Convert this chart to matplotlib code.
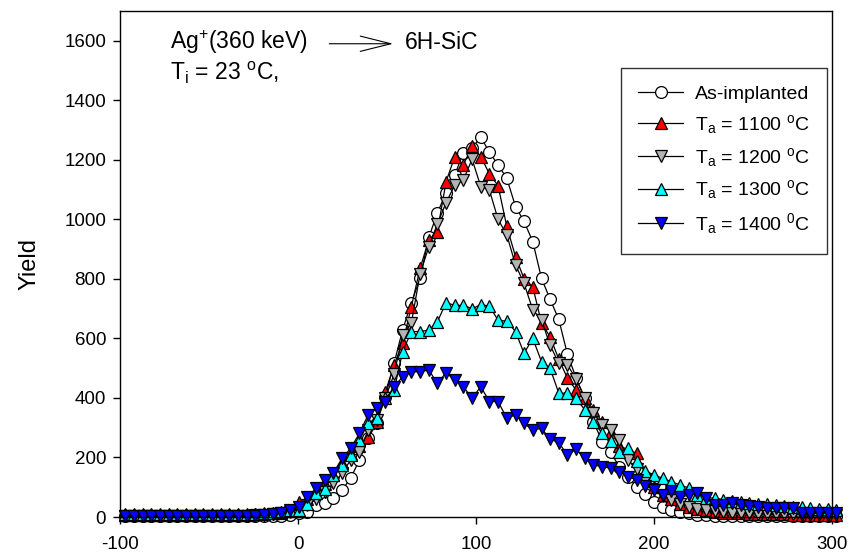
import matplotlib
matplotlib.use("Agg")
import matplotlib.pyplot as plt

plt.rcParams['font.family'] = ['Liberation Sans', 'DejaVu Sans']
plt.rcParams['mathtext.fontset'] = 'custom'
plt.rcParams['mathtext.rm'] = 'Liberation Sans'
plt.rcParams['mathtext.it'] = 'Liberation Sans:italic'
plt.rcParams['axes.unicode_minus'] = False

# channel positions (x axis)
x = [-97.0, -92.1, -87.3, -82.4, -77.5, -72.7, -67.8, -62.9, -58.0, -53.2,
     -48.3, -43.4, -38.6, -33.7, -28.8, -24.0, -19.1, -14.2, -9.3, -4.5,
     0.4, 5.3, 10.1, 15.0, 19.9, 24.8, 29.6, 34.5, 39.4, 44.2,
     49.1, 54.0, 58.8, 63.7, 68.6, 73.5, 78.3, 83.2, 88.1, 92.9,
     97.8, 102.7, 107.5, 112.4, 117.3, 122.2, 127.0, 131.9, 136.8, 141.6,
     146.5, 151.4, 156.2, 161.1, 166.0, 170.9, 175.7, 180.6, 185.5, 190.3,
     195.2, 200.1, 204.9, 209.8, 214.7, 219.6, 224.4, 229.3, 234.2, 239.0,
     243.9, 248.8, 253.6, 258.5, 263.4, 268.3, 273.1, 278.0, 282.9, 287.7,
     292.6, 297.5, 302.3]

as_implanted = [2, 3, 2, 3, 2, 3, 3, 2, 3, 3, 2, 3, 3, 3, 3, 3, 3, 4, 5, 8,
                12, 18, 40, 46, 63, 91, 130, 192, 265, 315,
                404, 517, 629, 720, 802, 940, 1021, 1090, 1150, 1223,
                1240, 1276, 1226, 1183, 1138, 1043, 993, 925, 802, 732,
                664, 546, 468, 399, 320, 253, 218, 167, 135, 102,
                76, 51, 35, 24, 17, 12, 8, 6, 5, 4,
                3, 3, 3, 2, 2, 2, 2, 2, 2, 2, 2, 2, 2]

ta_1100 = [8, 8, 7, 8, 8, 7, 8, 8, 7, 8, 8, 8, 7, 8, 8, 9, 10, 12, 15, 20,
           50, 60, 80, 110, 140, 180, 210, 240, 270, 320,
           421, 511, 584, 707, 836, 931, 959, 1127, 1211, 1183,
           1245, 1211, 1153, 1113, 976, 875, 800, 774, 651, 606,
           530, 466, 427, 399, 360, 320, 285, 240, 225, 214,
           140, 100, 75, 60, 45, 35, 28, 22, 18, 15,
           13, 12, 11, 10, 10, 9, 9, 8, 8, 8, 7, 7, 7]

ta_1200 = [5, 5, 5, 5, 5, 5, 5, 5, 5, 5, 5, 5, 5, 5, 5, 6, 7, 9, 12, 18,
           25, 40, 60, 85, 113, 147, 192, 220, 292, 326,
           400, 480, 612, 653, 817, 908, 985, 1056, 1116, 1133,
           1202, 1110, 1099, 1000, 948, 847, 785, 696, 662, 578,
           516, 511, 464, 400, 348, 310, 292, 259, 192, 160,
           124, 95, 70, 57, 45, 35, 28, 24, 20, 17,
           15, 13, 12, 11, 10, 10, 9, 9, 8, 8, 8, 7, 7]

ta_1300 = [10, 10, 10, 10, 10, 10, 10, 10, 10, 10, 10, 10, 10, 10, 10, 11, 12, 14, 17, 22,
           25, 45, 80, 95, 140, 175, 208, 259, 315, 332,
           400, 427, 556, 623, 623, 628, 656, 720, 711, 711,
           700, 713, 709, 661, 658, 623, 550, 600, 522, 500,
           416, 416, 399, 360, 320, 281, 256, 220, 231, 189,
           155, 141, 130, 118, 108, 97, 75, 65, 63, 58,
           55, 50, 48, 45, 42, 40, 38, 35, 33, 30, 28, 27, 25]

ta_1400 = [3, 3, 3, 3, 3, 3, 3, 3, 3, 3, 3, 3, 3, 3, 3, 5, 6, 10, 15, 25,
           35, 68, 96, 124, 149, 197, 231, 281, 343, 365,
           388, 438, 471, 488, 488, 494, 449, 485, 460, 438,
           399, 438, 388, 388, 332, 343, 315, 292, 298, 261,
           250, 208, 228, 197, 175, 169, 164, 152, 135, 124,
           105, 91, 74, 88, 66, 74, 80, 63, 40, 40,
           46, 40, 37, 35, 29, 29, 29, 29, 12, 12, 12, 12, 15]

labels = ['As-implanted',
          r'T$_\mathrm{a}$ = 1100 $^\mathrm{o}$C',
          r'T$_\mathrm{a}$ = 1200 $^\mathrm{o}$C',
          r'T$_\mathrm{a}$ = 1300 $^\mathrm{o}$C',
          r'T$_\mathrm{a}$ = 1400 $^\mathrm{0}$C']

fig = plt.figure(figsize=(8.6, 5.59), dpi=100)
ax = fig.add_axes([120/860, 1-517/559, (832-120)/860, (517-11)/559])

series = [as_implanted, ta_1100, ta_1200, ta_1300, ta_1400]
markers = ['o', '^', 'v', '^', 'v']
faces = ['white', '#ff0000', '#b4b4b4', '#00ffff', '#0000ff']
for y, m, fc, lab in zip(series, markers, faces, labels):
    ax.plot(x, y, color='black', lw=0.9, marker=m, markersize=8.5,
            markerfacecolor=fc, markeredgecolor='black', markeredgewidth=0.9,
            label=lab, clip_on=False)

ax.set_xlim(-100, 300)
ax.set_ylim(0, 1700)
ax.set_xticks([-100, 0, 100, 200, 300])
ax.set_yticks(range(0, 1601, 200))
ax.tick_params(direction='out', length=5, width=1, labelsize=13.5,
               top=False, right=False)
ax.tick_params(axis='x', pad=9)
ax.tick_params(axis='y', pad=5)
for s in ax.spines.values():
    s.set_linewidth(1.0)
ax.set_ylabel('Yield', fontsize=17, labelpad=17)

ax.text(-72, 1573, r'Ag$^{+}$(360 keV)', fontsize=16.5, va='baseline')
ax.annotate('', xy=(55, 1590), xytext=(16, 1590),
            arrowprops=dict(arrowstyle='->,head_length=2.2,head_width=0.55',
                            color='black', lw=0.8, mutation_scale=10))
ax.text(60, 1573, '6H-SiC', fontsize=16.5, va='baseline')
ax.text(-72, 1469, r'T$_\mathrm{i}$ = 23 $^\mathrm{o}$C,', fontsize=16.5, va='baseline')

leg = ax.legend(loc='upper right', bbox_to_anchor=(0.993, 0.887),
                borderaxespad=0, fontsize=14, frameon=True, fancybox=False,
                edgecolor='black', handlelength=2.3, handletextpad=0.6,
                labelspacing=0.5, borderpad=0.9)
leg.get_frame().set_linewidth(1.0)

fig.savefig('out.png', dpi=100)
